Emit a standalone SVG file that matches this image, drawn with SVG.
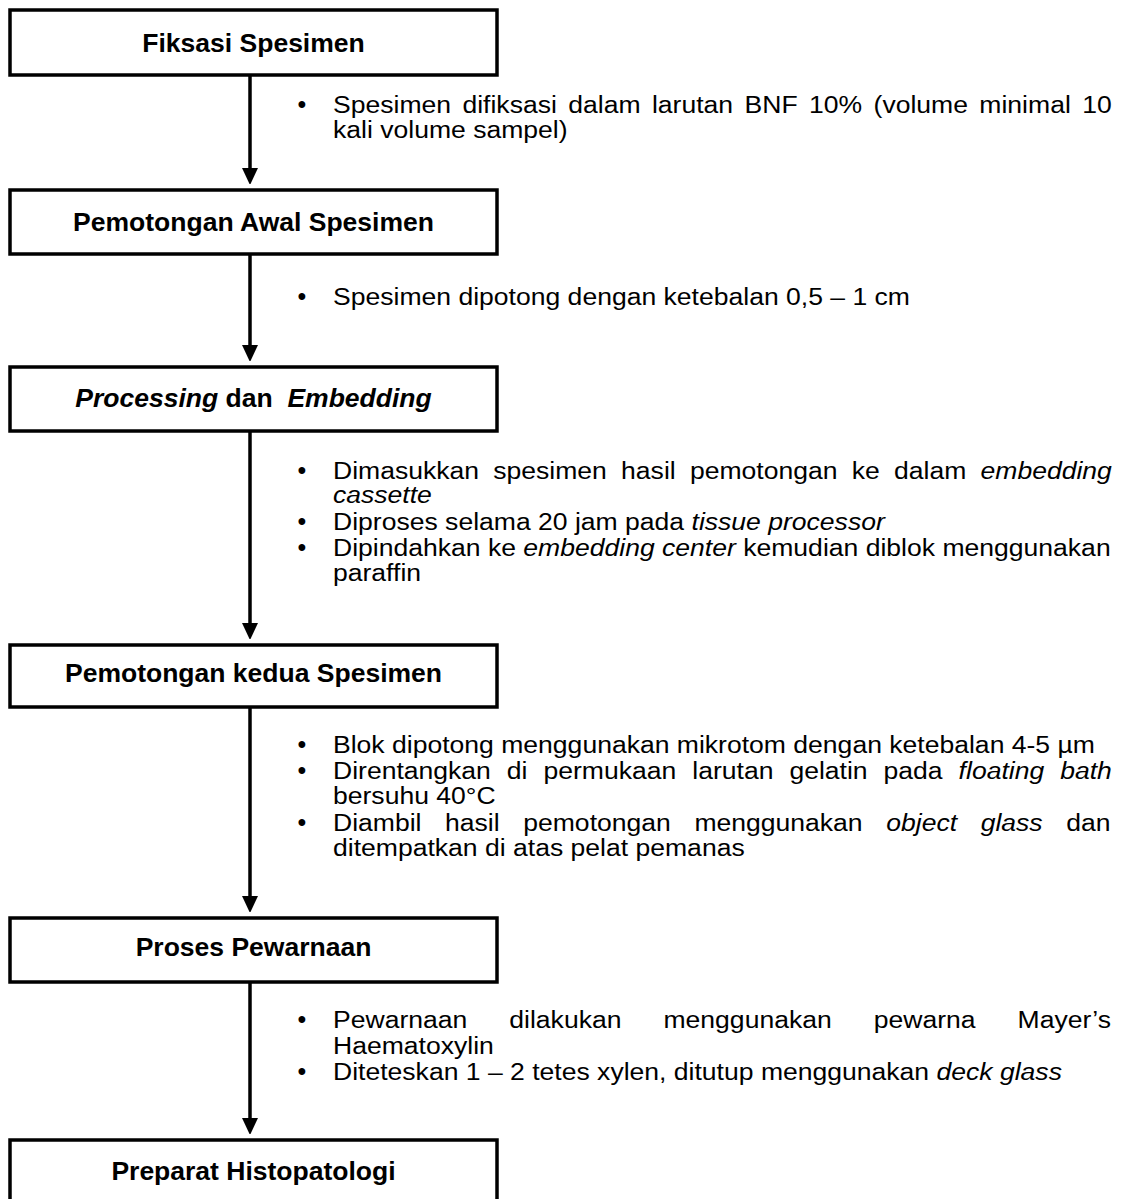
<svg xmlns="http://www.w3.org/2000/svg" width="1132" height="1199" viewBox="0 0 1132 1199">
<style>
.box{fill:#fff;stroke:#000;stroke-width:3.5}
.h{font-family:"Liberation Sans",Arial,sans-serif;font-size:25.5px;font-weight:bold;fill:#000;text-anchor:middle}
.t{font-family:"Liberation Sans",Arial,sans-serif;font-size:23.5px;fill:#000}
.b{font-family:"Liberation Sans",Arial,sans-serif;font-size:25px;fill:#000;text-anchor:middle}
.i{font-style:italic}
.c{stroke:#000;stroke-width:3.5;fill:none}
</style>
<defs>
<marker id="ah" markerUnits="userSpaceOnUse" markerWidth="16" markerHeight="17" refX="9" refY="8" orient="auto">
<path d="M0,0 L17,8 L0,16 z" fill="#000"/>
</marker>
</defs>
<rect width="1132" height="1199" fill="#fff"/>
<g id="connectors">
<line class="c" x1="250" y1="75" x2="250" y2="177" marker-end="url(#ah)"/>
<line class="c" x1="250" y1="254" x2="250" y2="354" marker-end="url(#ah)"/>
<line class="c" x1="250" y1="431" x2="250" y2="632" marker-end="url(#ah)"/>
<line class="c" x1="250" y1="707" x2="250" y2="905" marker-end="url(#ah)"/>
<line class="c" x1="250" y1="982" x2="250" y2="1127" marker-end="url(#ah)"/>
</g>
<g id="n1">
<rect class="box" x="10" y="10" width="487" height="65"/>
<text class="h" transform="translate(253.5,52) scale(1.04,1)">Fiksasi Spesimen</text>
</g>
<g id="d1">
<text class="b" x="302" y="113">•</text>
<text class="t" transform="translate(333,113) scale(1.13,1)" word-spacing="3.57">Spesimen difiksasi dalam larutan BNF 10% (volume minimal 10</text>
<text class="t" transform="translate(333,138) scale(1.13,1)">kali volume sampel)</text>
</g>
<g id="n2">
<rect class="box" x="10" y="190" width="487" height="64"/>
<text class="h" transform="translate(253.5,230.5) scale(1.04,1)">Pemotongan Awal Spesimen</text>
</g>
<g id="d2">
<text class="b" x="302" y="305">•</text>
<text class="t" transform="translate(333,305) scale(1.13,1)">Spesimen dipotong dengan ketebalan 0,5 – 1 cm</text>
</g>
<g id="n3">
<rect class="box" x="10" y="367" width="487" height="64"/>
<text class="h" transform="translate(253.5,406.5) scale(1.04,1)" style="white-space:pre"><tspan class="i">Processing</tspan> dan  <tspan class="i">Embedding</tspan></text>
</g>
<g id="d3">
<text class="b" x="302" y="479">•</text>
<text class="t" transform="translate(333,479) scale(1.13,1)" word-spacing="6.07">Dimasukkan spesimen hasil pemotongan ke dalam <tspan class="i">embedding</tspan></text>
<text class="t i" transform="translate(333,503) scale(1.13,1)">cassette</text>
<text class="b" x="302" y="530">•</text>
<text class="t" transform="translate(333,530) scale(1.13,1)">Diproses selama 20 jam pada <tspan class="i">tissue processor</tspan></text>
<text class="b" x="302" y="556">•</text>
<text class="t" transform="translate(333,556) scale(1.13,1)">Dipindahkan ke <tspan class="i">embedding center</tspan> kemudian diblok menggunakan</text>
<text class="t" transform="translate(333,581) scale(1.13,1)">paraffin</text>
</g>
<g id="n4">
<rect class="box" x="10" y="645" width="487" height="62"/>
<text class="h" transform="translate(253.5,681.5) scale(1.04,1)">Pemotongan kedua Spesimen</text>
</g>
<g id="d4">
<text class="b" x="302" y="753">•</text>
<text class="t" transform="translate(333,753) scale(1.13,1)">Blok dipotong menggunakan mikrotom dengan ketebalan 4-5 µm</text>
<text class="b" x="302" y="779">•</text>
<text class="t" transform="translate(333,779) scale(1.13,1)" word-spacing="7.61">Direntangkan di permukaan larutan gelatin pada <tspan class="i">floating bath</tspan></text>
<text class="t" transform="translate(333,804) scale(1.13,1)">bersuhu 40°C</text>
<text class="b" x="302" y="831">•</text>
<text class="t" transform="translate(333,831) scale(1.13,1)" word-spacing="14.34">Diambil hasil pemotongan menggunakan <tspan class="i">object glass</tspan> dan</text>
<text class="t" transform="translate(333,856) scale(1.13,1)">ditempatkan di atas pelat pemanas</text>
</g>
<g id="n5">
<rect class="box" x="10" y="918" width="487" height="64"/>
<text class="h" transform="translate(253.5,955.5) scale(1.04,1)">Proses Pewarnaan</text>
</g>
<g id="d5">
<text class="b" x="302" y="1028">•</text>
<text class="t" transform="translate(333,1028) scale(1.13,1)" word-spacing="30.66">Pewarnaan dilakukan menggunakan pewarna Mayer’s</text>
<text class="t" transform="translate(333,1054) scale(1.13,1)">Haematoxylin</text>
<text class="b" x="302" y="1080">•</text>
<text class="t" transform="translate(333,1080) scale(1.13,1)">Diteteskan 1 – 2 tetes xylen, ditutup menggunakan <tspan class="i">deck glass</tspan></text>
</g>
<g id="n6">
<rect class="box" x="10" y="1140" width="487" height="64"/>
<text class="h" transform="translate(253.5,1179.5) scale(1.04,1)">Preparat Histopatologi</text>
</g>
</svg>
